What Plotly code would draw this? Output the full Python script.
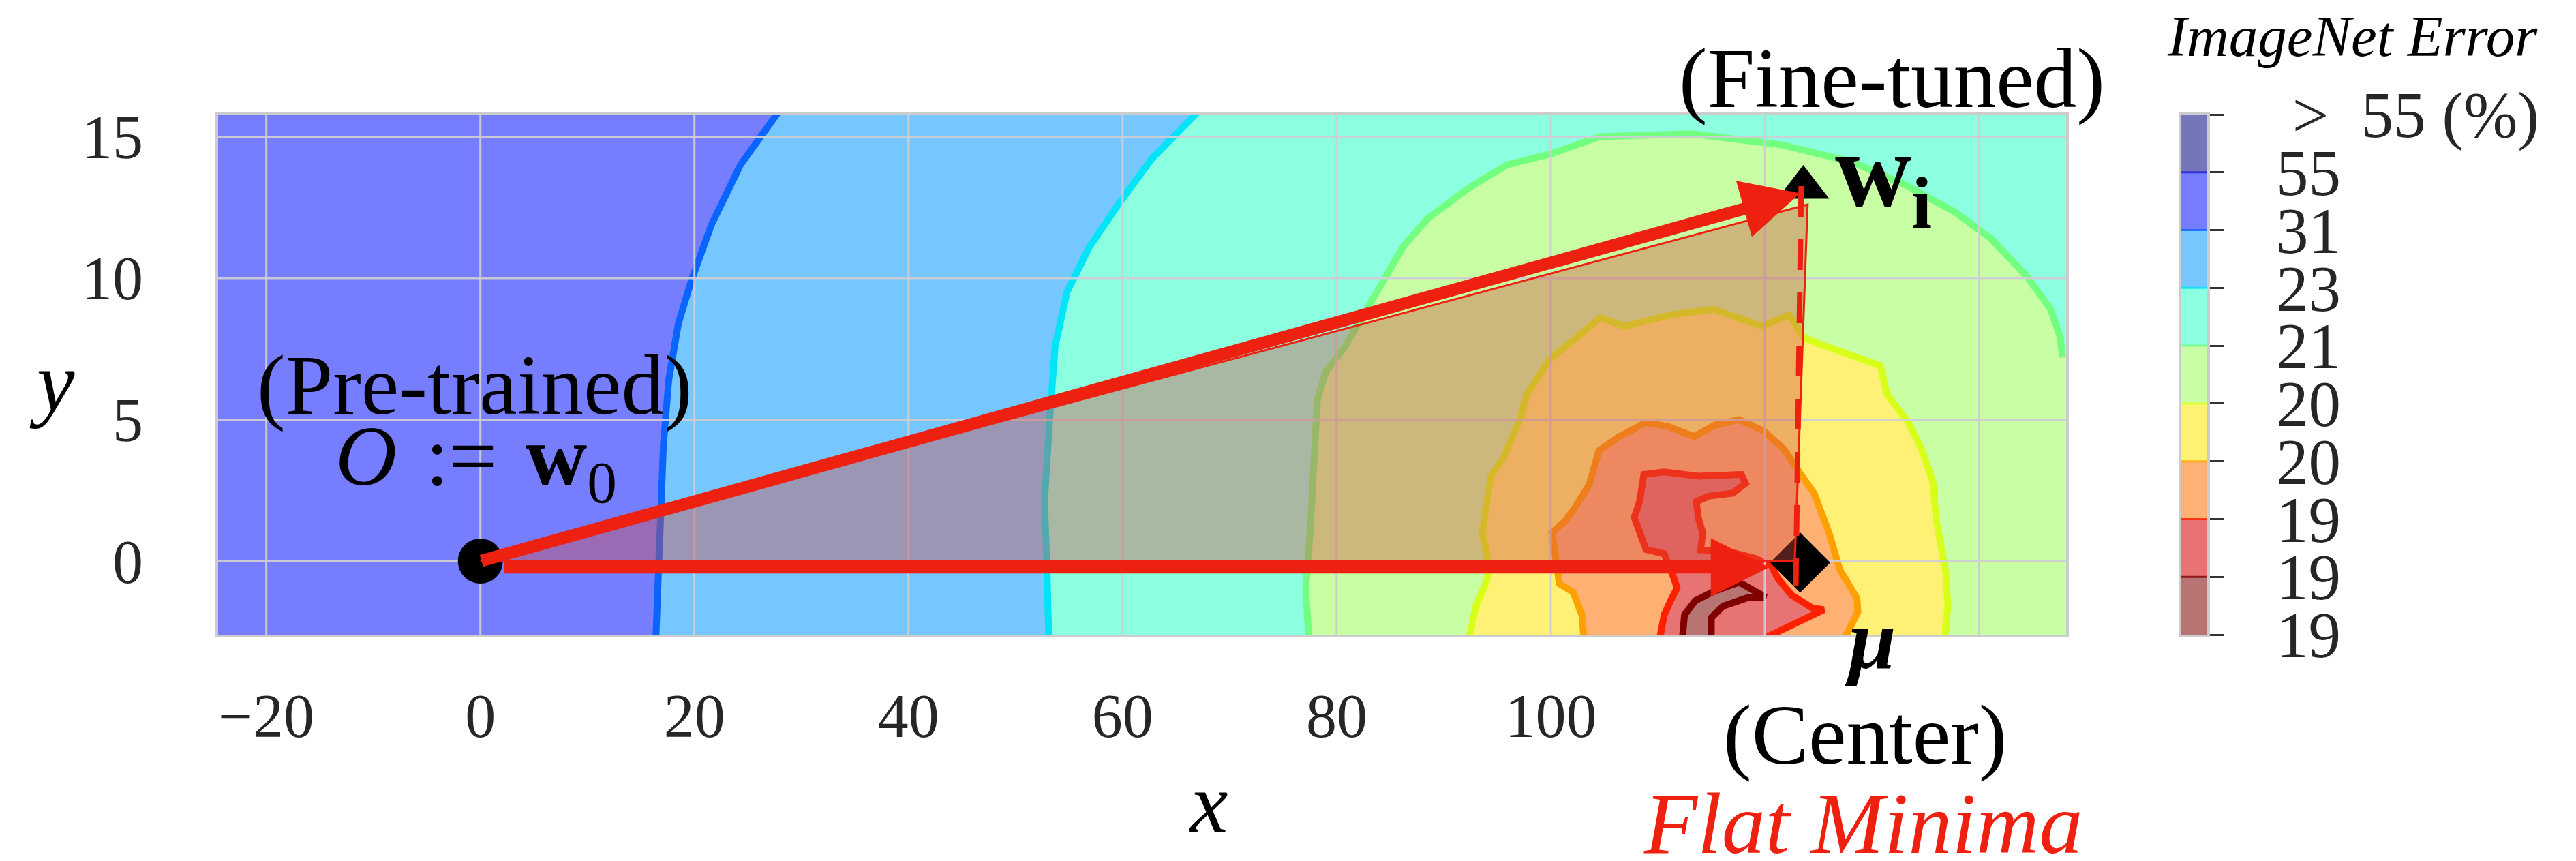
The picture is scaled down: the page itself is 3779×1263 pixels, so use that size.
import plotly.graph_objects as go

# ---------------- values ----------------
X_RANGE = [-24.5, 148.15]
Y_RANGE = [-2.6, 15.78]

X_GRID = [-20, 0, 20, 40, 60, 80, 100, 120, 140]
Y_GRID = [0, 5, 10, 15]
X_TICKS = [-20, 0, 20, 40, 60, 80, 100]
X_TICKTEXT = ["\u221220", "0", "20", "40", "60", "80", "100"]
Y_TICKS = [0, 5, 10, 15]
Y_TICKTEXT = ["0", "5", "10", "15"]

# contour boundary lines of the error landscape
BLUE_X = [27.9, 24.3, 21.6, 19.7, 18.5, 17.6, 17.1, 16.8, 16.4]
BLUE_Y = [15.9, 14.0, 11.9, 9.9, 8.4, 6.4, 4.1, 1.2, -2.7]

CYAN_X = [67.1, 64.8, 62.7, 59.6, 56.9, 54.8, 53.7, 53.2, 52.7, 52.9, 53.1]
CYAN_Y = [15.9, 15.0, 14.2, 12.6, 11.1, 9.5, 7.6, 5.1, 2.1, 0.2, -2.7]

GREEN_X = [77.4, 77.1, 77.5, 77.9, 78.2, 79.0, 80.8, 82.5, 84.5, 86.2, 88.5, 92.4,
           95.9, 100.1, 104.6, 113.2, 121.7, 128.2, 133.1, 137.9, 141.1, 144.4,
           146.7, 147.6, 147.8]
GREEN_Y = [-2.7, -1.0, 0.9, 4.0, 5.7, 6.7, 7.6, 8.7, 10.0, 11.1, 12.1, 13.2,
           14.0, 14.4, 15.0, 15.1, 14.7, 14.1, 13.3, 12.3, 11.4, 10.1,
           8.9, 7.9, 7.2]

YELLOW_X = [92.4, 93.0, 93.9, 94.3, 93.6, 94.1, 94.4, 95.5, 97.0, 97.8, 99.8, 102.1,
            104.6, 106.9, 111.2, 115.2, 119.7, 122.3, 123.6, 124.9, 130.8, 131.4,
            133.4, 134.6, 135.7, 136.0, 136.9, 137.1, 136.8]
YELLOW_Y = [-2.7, -1.6, -0.8, -0.3, 1.0, 2.1, 3.0, 3.6, 4.9, 5.9, 7.1, 7.8,
            8.6, 8.3, 8.7, 8.9, 8.3, 8.7, 7.9, 7.7, 6.9, 5.9,
            4.9, 4.0, 2.8, 1.5, -0.4, -1.6, -2.7]

ORANGE_X = [103.1, 102.9, 102.1, 100.8, 100.5, 100.1, 101.3, 102.1, 103.6, 104.5,
            106.4, 108.9, 111.0, 113.4, 115.3, 117.6, 119.9, 121.8, 123.3, 124.6,
            126.0, 127.0, 128.6, 128.7, 127.5]
ORANGE_Y = [-2.7, -1.9, -1.1, -0.8, 0.0, 1.0, 1.4, 1.8, 2.7, 3.9,
            4.4, 4.9, 4.75, 4.4, 4.8, 5.0, 4.6, 3.95, 3.1, 2.4,
            1.0, -0.3, -1.3, -1.8, -2.7]

RED_X = [110.2, 110.6, 111.2, 111.8, 111.5, 111.0, 110.6, 108.9, 108.3, 107.8,
         108.3, 108.5, 108.7, 110.6, 113.8, 117.8, 118.2, 117.0, 114.8, 113.6,
         113.8, 114.2, 114.0, 116.6, 119.1, 120.6, 121.2, 122.5, 124.4, 125.5,
         123.3, 120.1]
RED_Y = [-2.7, -1.9, -1.4, -0.95, -0.6, -0.1, 0.26, 0.41, 0.99, 1.54,
         2.1, 2.75, 3.06, 3.15, 3.0, 3.06, 2.75, 2.4, 2.3, 2.1,
         1.5, 1.0, 0.4, 0.34, 0.1, -0.15, -0.6, -1.2, -1.65, -1.72,
         -2.1, -2.7]

BROWN_X = [112.3, 112.5, 113.5, 115.3, 117.6, 118.6, 120.1, 118.5, 116.1, 115.0, 115.0]
BROWN_Y = [-2.7, -1.9, -1.4, -1.06, -0.75, -0.95, -1.28, -1.28, -1.59, -2.0, -2.7]

# colorbar levels (bottom -> top)
LEVEL_LABELS = ["19", "19", "19", "20", "20", "21", "23", "31", "55",
                "\u00a0>\u00a0\u00a055\u00a0(%)"]
BAND_COLORS = ["#B87373", "#E87373", "#FFB073", "#FFF175", "#C8FFA4",
               "#8CFFE1", "#76C6FF", "#767EFF", "#7575B9"]
LINE_COLORS = ["#800000", "#FF2000", "#FF9F00", "#D8FF1A", "#72FF80",
               "#00E4F8", "#0A64FF", "#2020D0"]

# key points
O_PT = [0.0, 0.0]          # pre-trained
W_PT = [123.6, 13.2]       # fine-tuned
MU_PT = [123.3, -0.05]     # center
EDGE_PT = [124.0, 12.6]    # triangle corner near w_i
FOOT_PT = [122.8, 0.0]     # triangle corner near mu
PROJ_X = [123.4, 122.9]    # dashed projection w_i -> mu
PROJ_Y = [13.25, -0.87]
ARROW_TAIL_X = [0.0, 2.1]
ARROW_TAIL_Y = [0.0, -0.22]
ARROW_HEAD_X = [123.3, 120.4]
ARROW_HEAD_Y = [13.0, -0.22]

# ---------------- layout geometry ----------------
W, H = 3779, 1263
ML, MR, MT, MB = 312, 549, 160, 340
PW = W - ML - MR
PH = H - MT - MB


def pxx(xp):
    return (xp - ML) / PW


def pxy(yp):
    return (H - MB - yp) / PH


SERIF = "Liberation Serif"
RED = "#EE2010"

fig = go.Figure()

XE = X_RANGE[1] + 10
XS = X_RANGE[0] - 10
YT = Y_RANGE[1] + 3
YB = Y_RANGE[0] - 3


def add_region(xs, ys, band, kind):
    if kind == "right":
        rx = [xs[0]] + xs + [xs[-1], XE, XE]
        ry = [YT] + ys + [YB, YB, YT]
    elif kind == "right_open":
        rx = [xs[0]] + xs + [XE, XE]
        ry = [YB] + ys + [ys[-1], YB]
    else:
        rx = [xs[0]] + xs + [xs[-1]]
        ry = [YB] + ys + [YB]
    fig.add_trace(go.Scatter(x=rx, y=ry, fill="toself", fillcolor=BAND_COLORS[band],
                             mode="none", hoverinfo="skip", showlegend=False))


regions = [
    (BLUE_X, BLUE_Y, 6, "right"),
    (CYAN_X, CYAN_Y, 5, "right"),
    (GREEN_X, GREEN_Y, 4, "right_open"),
    (YELLOW_X, YELLOW_Y, 3, "bottom"),
    (ORANGE_X, ORANGE_Y, 2, "bottom"),
    (RED_X, RED_Y, 1, "bottom"),
    (BROWN_X, BROWN_Y, 0, "bottom"),
]
for xs, ys, band, kind in regions:
    add_region(xs, ys, band, kind)
for xs, ys, band, kind in regions:
    fig.add_trace(go.Scatter(x=xs, y=ys, mode="lines",
                             line=dict(color=LINE_COLORS[band], width=10),
                             hoverinfo="skip", showlegend=False))

# grid lines (drawn over the filled bands, as in the picture)
gx, gy = [], []
for v in X_GRID:
    gx += [v, v, None]
    gy += [YB, YT, None]
for v in Y_GRID:
    gx += [XS, XE, None]
    gy += [v, v, None]
fig.add_trace(go.Scatter(x=gx, y=gy, mode="lines",
                         line=dict(color="rgba(206,206,212,0.95)", width=3),
                         hoverinfo="skip", showlegend=False))

# key point markers
fig.add_trace(go.Scatter(x=[O_PT[0]], y=[O_PT[1]], mode="markers",
                         marker=dict(symbol="circle", size=66, color="black"),
                         hoverinfo="skip", showlegend=False))
fig.add_trace(go.Scatter(x=[W_PT[0]], y=[W_PT[1]], mode="markers",
                         marker=dict(symbol="triangle-up", size=66, color="black"),
                         hoverinfo="skip", showlegend=False))
fig.add_trace(go.Scatter(x=[MU_PT[0]], y=[MU_PT[1]], mode="markers",
                         marker=dict(symbol="diamond", size=68, color="black"),
                         hoverinfo="skip", showlegend=False))

# translucent triangle O - w_i - mu
tri_x = [O_PT[0], EDGE_PT[0], FOOT_PT[0], O_PT[0]]
tri_y = [O_PT[1], EDGE_PT[1], FOOT_PT[1], O_PT[1]]
fig.add_trace(go.Scatter(x=tri_x, y=tri_y, fill="toself",
                         fillcolor="rgba(210,78,67,0.40)", mode="lines",
                         line=dict(color=RED, width=3),
                         hoverinfo="skip", showlegend=False))
# dashed projection
fig.add_trace(go.Scatter(x=PROJ_X, y=PROJ_Y, mode="lines",
                         line=dict(color=RED, width=8, dash="45px,33px"),
                         hoverinfo="skip", showlegend=False))

# arrows
for tx, ty, hx, hy in zip(ARROW_TAIL_X, ARROW_TAIL_Y, ARROW_HEAD_X, ARROW_HEAD_Y):
    fig.add_annotation(x=hx, y=hy, ax=tx, ay=ty, xref="x", yref="y",
                       axref="x", ayref="y", text="", showarrow=True,
                       arrowhead=2, arrowsize=0.95, arrowwidth=18,
                       arrowcolor=RED, standoff=0)

# ---------------- colorbar as a small heatmap ----------------
cs = []
for k, c in enumerate(BAND_COLORS):
    cs += [[k / len(BAND_COLORS), c], [(k + 1) / len(BAND_COLORS), c]]
nb = len(BAND_COLORS)
fig.add_trace(go.Heatmap(z=[[k] for k in range(nb)], x=[0], y=list(range(nb)),
                         zmin=-0.5, zmax=nb - 0.5, colorscale=cs, showscale=False,
                         hoverinfo="skip", xaxis="x2", yaxis="y2"))
for k, c in enumerate(LINE_COLORS):
    fig.add_trace(go.Scatter(x=[-0.5, 0.5], y=[k + 0.5, k + 0.5], mode="lines",
                             line=dict(color=c, width=3), opacity=0.8,
                             xaxis="x2", yaxis="y2", hoverinfo="skip",
                             showlegend=False))

# ---------------- texts ----------------
def ann(text, xp, yp, size, color="black"):
    fig.add_annotation(text=text, x=pxx(xp), y=pxy(yp), xref="paper", yref="paper",
                       showarrow=False, xanchor="center", yanchor="middle",
                       font=dict(family=SERIF, size=size, color=color))


ann("(Pre-trained)", 688, 557, 125)
ann("<i>O</i>\u2004:=\u2004<b>w</b><sub>0</sub>", 690, 670, 125)
ann("(Fine-tuned)", 2767, 107, 125)
ann("<b>w<sub>i</sub></b>", 2755, 252, 155)
ann("<b><i>\u03bc</i></b>", 2736, 930, 125)
ann("(Center)", 2728, 1070, 125)
ann("<i>Flat Minima</i>", 2725, 1200, 128, RED)
ann("<i>x</i>", 1764, 1170, 125)
ann("<i>y</i>", 68, 552, 125)
ann("<i>ImageNet Error</i>", 3443, 45, 85)

tickfont = dict(family=SERIF, size=90, color="#262626")
fig.update_layout(
    width=W, height=H,
    margin=dict(l=ML, r=MR, t=MT, b=MB, autoexpand=False),
    paper_bgcolor="white", plot_bgcolor=BAND_COLORS[7],
    showlegend=False,
    xaxis=dict(domain=[0, (3023 - ML) / PW], range=X_RANGE, showgrid=False,
               zeroline=False, tickvals=X_TICKS, ticktext=X_TICKTEXT, ticks="",
               showline=True, mirror=True, linecolor="#CCCCCC", linewidth=4,
               tickfont=tickfont, ticklabelstandoff=38),
    yaxis=dict(domain=[0, 1], range=Y_RANGE, showgrid=False, zeroline=False,
               tickvals=Y_TICKS, ticktext=Y_TICKTEXT, ticks="",
               showline=True, mirror=True, linecolor="#CCCCCC", linewidth=4,
               tickfont=tickfont, ticklabelstandoff=88),
    xaxis2=dict(domain=[(3192 - ML) / PW, 1.0], range=[-0.5, 0.5], anchor="y2",
                showticklabels=False, showgrid=False, zeroline=False, ticks="",
                showline=True, mirror=True, linecolor="#CCCCCC", linewidth=4),
    yaxis2=dict(domain=[0, 1], range=[-0.5, nb - 0.5], anchor="x2", side="right",
                tickvals=[k - 0.5 for k in range(nb + 1)], ticktext=LEVEL_LABELS,
                ticks="outside", ticklen=20, tickwidth=3, tickcolor="#333333",
                showline=True, mirror=True, linecolor="#CCCCCC", linewidth=4,
                showgrid=False, zeroline=False,
                tickfont=dict(family=SERIF, size=95, color="#262626"),
                ticklabelstandoff=58),
)

fig.write_html("out.html")
